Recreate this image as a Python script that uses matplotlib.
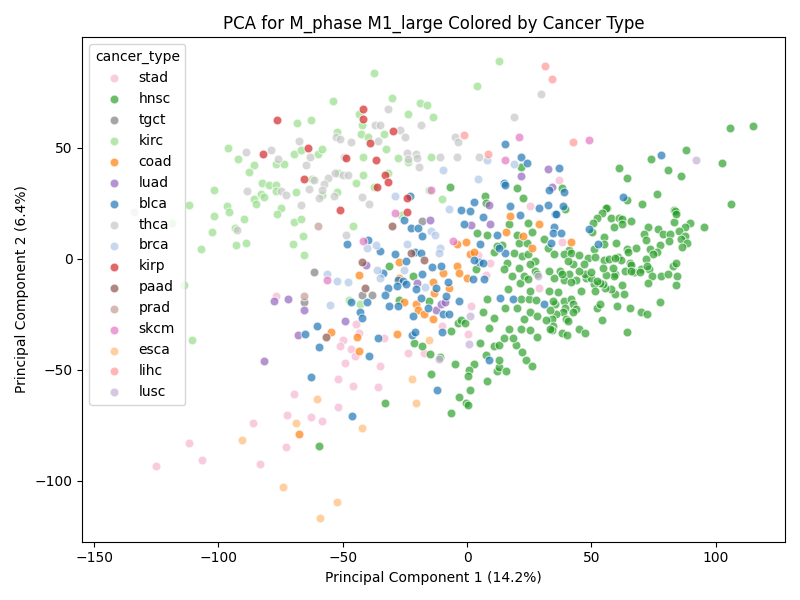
import matplotlib
matplotlib.use("Agg")
import matplotlib.pyplot as plt

categories = ["stad", "hnsc", "tgct", "kirc", "coad", "luad", "blca", "thca",
              "brca", "kirp", "paad", "prad", "skcm", "esca", "lihc", "lusc"]

colors = {
    "stad": "#f7b6d2", "hnsc": "#2ca02c", "tgct": "#7f7f7f", "kirc": "#98df8a",
    "coad": "#ff7f0e", "luad": "#9467bd", "blca": "#1f77b4", "thca": "#c7c7c7",
    "brca": "#aec7e8", "kirp": "#d62728", "paad": "#8c564b", "prad": "#c49c94",
    "skcm": "#e377c2", "esca": "#ffbb78", "lihc": "#ff9896", "lusc": "#c5b0d5",
}

stad = [(-125,-93.4),(-111.7,-83),(-106.5,-90.7),(-86,-74),(-83.2,-92.5),(-72.3,-70.5),
        (-72.7,-84.9),(-69.5,-61),(-62.7,-71.4),(-58.3,-73),(-52,-54),(-46,-57.5),(-36,-58),
        (-49,-47),(-35,-48.5),(-52,-67),(-76.8,-17),(-44.6,-29.6),(-43.4,-33.7),(-49.8,-36.8),
        (-51,-39.5),(-46.6,-40.9),(-45,-44),(-23.7,-42.7),(-17.3,-42.7),(-33.4,-35.9),
        (-10,-30.5),(0.4,-34),(1.6,-21.5),(4.4,1.8),(9.2,-1.8),(7.6,-7.2),(29,-13),
        (25.3,23.8),(37,35.5),(38,7.6)]

hnsc = [(-59.5,-84.4),(-14.5,-52),(-4.8,-47.6),(2.8,-47.6),(0.8,-50),(0.4,-53),(8,-55),
        (12,-50.7),(13,-49),(15.7,-50.7),(23.7,-45.8),(26,-48.5),(13,-45.8),(1.2,-59.3),
        (-3.2,-62.4),(-0.4,-65),(0.4,-66),(-6.4,-69.6),(-33,-65),
        (21.7,41.3),(20,31.9),(22.5,27.4),(-6.8,32.3),(7.2,28.3),(7.6,25),(105.7,58.8),
        (115,59.7),(88,49),(74,45),(102.5,43),(81,40),(86,37.3),(61,40.8),(64.3,36.4),
        (38.2,31.9),(76.4,29),(64.3,26.5),(70.3,24.7),(106,24.7),(39.4,22.5),(56.3,23),
        (83.2,22),(84,21),
        (55.9,23),(54.3,20.6),(52.3,18.4),(57.9,18.4),(61,18.4),(62.3,18),(66,17),(62.3,15.7),
        (59,14.4),(50.6,16.2),(83.6,21.6),(83.2,16.6),(84,20.2),(89.6,16.2),(95.3,14.4),
        (87.6,14.4),(72.7,14.4),(76.8,13.5),(79,11.2),(81.6,11.2),(85.2,12.6),(87.6,10.3),
        (86,9),(88.4,7.2),(81.2,8),(86.4,5.4),(71,11.2),(72,8.5),(77.6,6.3),(73.6,4.5),
        (76.4,3.1),(74.8,2.2),(72,0),(68,5),(64.3,4.5),(64.7,3.1),(59.9,7.2),(55,9.9),
        (50.2,12.1),(55,6.7),(51,4.5),(41,4),(39,2.2),(41.8,2.7),(45,1.8),(48.6,0.4),
        (51.4,0.9),(55,-0.4),(57,0),(60.7,0.9),(61.9,-0.4),(65.5,-1.8),(65.9,-2.7),(70,-4.5),
        (73.2,-4.5),(74.4,-7.6),(72.3,-3.1),(78,-7.6),(80.8,-6.7),(82.8,-3.1),(84,-1.8),
        (84.4,-8),(84,-11.7),(72.7,-10.8),(67,-5.8),(63.5,-5.4),(59.5,-6.7),(59,-8),
        (55.9,-7.2),(54.7,-4),(58.7,-4),(62.3,-11.7),(63,-15.7),(59.5,-15.7),(57.9,-13.5),
        (55.5,-13),(54.7,-11.2),(53.5,-10.8),(51,-11.2),(51.4,-14.4),(47.8,-8.5),(49.8,-8.5),
        (52.3,-9.9),(45.8,-14.4),(47.4,-6.7),(45,-5.4),(43.8,-9.4),(41,-6.7),(39,-9.4),
        (41.8,-10.3),(37.4,-5.4),(35,-8.5),(38.2,-6.7),(42.6,-2.2),(40.6,-0.9),(47,-2.2),
        (49.8,-5.8),(59.5,0.4),(65.9,-5.4),(69.5,-5.8),(77.6,-19.7),(65.5,-22),(70,-24.2),
        (72.3,-25),(60.3,-21.5),(52.3,-22),(53.5,-20.2),(54.3,-27.8),(64.3,-33.2),
        (36.6,-14.8),(35.4,-20.2),(39,-18.9),(41.8,-18),(42.6,-20.2),(39.4,-22),(43.8,-22.5),
        (38.6,-24.2),(42.6,-24.2),(35.8,-25),(39.8,-27.4),(40.6,-28.3),(34.2,-27),
        (34.6,-30.5),(34.2,-32.3),(38.2,-33.7),(40.2,-34.6),(45,-31.9),(47.4,-33.7),
        (-31.4,-3.1),(-21.7,-8),(-27.3,-18.4),(-15.3,-18.9),(-6.4,-32.8),(-3.6,-29.2),
        (-2.4,-27.8),(-0.8,-29.2),(-21.3,-38.2),(-18,-39.5),(-14.9,-43.1),(-10.9,-44.5),
        (5.2,-38.2),(7.6,-43.6),(6.4,-24.2),(8,-18),(10.9,-26.5),(8.8,-31.4),(10.9,-39.5),
        (12.9,-39),(14.9,-35.9),(16.9,-31.9),(19.7,-39),(22.1,-42.2),(18.5,-35.9),
        (21.7,-31.9),(25.3,-32.3),(28.1,-35.5),(33.4,-31.9),(31.7,-27.8),(22.9,-27.4),
        (25.3,-24.2),(28.1,-25.6),(33.4,-23.3),(15.3,-22),(20.1,-22),(21.7,-18),(24.9,-18),
        (16.5,-13.5),(27.7,-18.4),(33,-14.4),(34.6,-18.9),(25.3,-14.4),(21.3,-10.8),
        (18.1,-7.6),(22.9,-7.6),(24.5,-9),(27.3,-5.4),(28.1,-6.7),(33,-5.4),(20.9,-4),
        (16.1,-1.8),(14.9,-4.5),(14.1,6.3),(10.9,3.1),(3.6,-4.5),(4,11.7),(20.1,10.8),
        (20.9,7.2),(8,10.8),(12.1,5.8),(18.9,2.7),(22.1,1.3),(24.5,2.2),(24.1,7.2),
        (27.3,-0.9),(25.3,-2.2),(32.6,5),(35,2.2),(30.9,9),(24.5,16.2),(16.9,15.7),(26.1,12.1)]

tgct = [(-61.5,-5.8),(-65.5,-19.3),(-42.2,-16.2),(-38.2,-16.2),(-18,17)]

kirc = [(-68.3,61),(-62.7,62.4),(-96,50),(-92,45),(-69.5,47),(-67,49),(-60,47),(-76.8,42.7),
        (-73.6,42.7),(-85.6,42),(-87.6,39),(-62.3,36),(-102,31),(-82.4,34),(-79.6,33),
        (-76.8,33),(-76.8,30.5),(-69,30),(-85.6,27),(-82.8,29),(-81.6,28),(-111.7,24),
        (-96.5,23.8),(-85,24.7),(-75,23),(-95.6,21),(-102,19),(-89.6,18),(-76.4,20.2),
        (-118.6,16),(-102.5,12),(-93.2,14),(-69.5,16.6),(-66.7,18),(-66,10.3),(-107,4.5),
        (-92.8,6.3),(-88.8,7.2),(-70,6.7),(-65.5,1.8),(-113.7,-11.7),(-110.5,-36.8),
        (12.9,89),(-37.4,83.5),(4,77.7),(-53.9,71),(-30,72.3),(-19,70),(-16,69),(-23.7,65),
        (-13.7,64),(-43.4,65),(-42.2,60),(-52.2,57),(-42.6,56),(-39.8,55),(-33.4,56),
        (-32.6,49.4),(-58.3,49.4),(-41.8,46),(-23.7,43.6),(-27.7,45.4),(-14.5,45.8),
        (-51.8,38.6),(-41.8,37.7),(-32,38.6),(-44.6,34),(-37.4,32.3),(-15.3,31),(-58.3,28.7),
        (-52.2,30),(-10,27),(-45.8,14.8),(-26.5,19.8),(-47.4,-18.4),(-43,-20.2)]

coad = [(-67.5,-79),(-27.3,-1.3),(-27.3,-8.5),(-43.4,-7.2),(-20.5,-20.2),(-19.7,-22.9),
        (-17.3,-25),(-13.7,-10.3),(-13.3,-15.3),(-13.7,-27),(-9.6,-6.3),(-7.2,-13),(-4,-3.1),
        (-3.2,-6.3),(0,-8.5),(1.2,2.2),(2.8,3.1),(-4,6.7),(-0.4,7.6),(15.7,12.1),(22.5,10.3),
        (26.1,5),(28.9,15.7),(17.3,19.3),(-28.1,-34.1),(-44.2,-35.5),(-43.4,-41.8),
        (-54.7,-33.2),(-25.3,-19.7),(41.8,7.6)]

luad = [(-77.6,-18.9),(-72,-18),(-65.5,-22.9),(-68,-34.6),(-81.6,-46.2),(21.7,37.3),
        (32.6,40.4),(34,32.3),(8.8,24.2),(-14.9,17.5),(-40.6,-2.7),(-20.1,-10.8),
        (-12.5,-23.3),(-10.5,-20.2),(-8.8,-19.3),(-49,-28.3),(9.2,15.7),(1.6,15.3)]

blca = [(-60.3,-30.5),(-65,-34),(-59.5,-40),(-62.7,-53.4),(-12,-59.3),(-46.2,-71),(8.8,-45.8),
        (15.3,51.6),(21.7,45.8),(24,43),(33,31),(14.9,34),(15.3,33),(17.3,23.8),(29,23),
        (32.6,24.2),(-23,28.3),(2.8,25.6),(-2.4,22),(78,46.7),(37,40.8),(39,30),(62.7,27.8),
        (38.6,23.8),(35.4,20.2),(49,13.5),(52.6,6.7),(35,14.4),(34.6,11.7),(37.8,11.7),
        (33.8,7.2),(-48.2,6.7),(-39.8,8.5),(-35,3.6),(-25.3,17.5),(-22.5,13.9),(-19.7,13.9),
        (-18,10.3),(-29,2.2),(-21,3.1),(-18.5,2.7),(-24.5,-0.9),(-33.8,-6.3),(-27.7,-9.4),
        (-25.7,-9.9),(-18,-6.7),(-14,-3.6),(-10.5,-3.1),(-31.8,-13),(-33,-16.2),(-28.1,-12.1),
        (-24.5,-11.2),(-20.5,-13.5),(-12.5,-13),(-7.6,-10.3),(-8.4,-16.6),(-18.5,-17.5),
        (-46.6,-19.7),(-40.2,-19.7),(-43,-23.8),(-31.4,-21.1),(-27.7,-21.1),(-15.7,-22),
        (-9.6,-24.7),(-7.2,-24.7),(-3.2,-18.9),(-21.7,-26),(-42.2,-26.5),(-35.8,-35.9),
        (-22.1,-34.6),(-20.9,-33.2),(-10,-33.2),(-39.4,-44),(13.3,-17.5),(18.5,-18),
        (30.9,-20.2),(15.3,2.7),(12.9,5),(4.8,-1.3),(6.4,-1.8),(2.8,-0.4),(2.4,-9),(6.8,-9),
        (-1.2,15.7),(1.2,21.6),(5.2,6.7),(6.4,18.9),(12.1,10.8),(21.3,19.8),(35.8,20.2)]

thca = [(-67.5,53),(-88.8,48),(-78.8,49),(-76,45),(-63,46),(-64.7,42),(-61.5,35.5),
        (-88.4,30.5),(-74.8,30.5),(-73,28.7),(-63.5,31.4),(-59.5,27.4),(-67,24),(-134,21),
        (-92.4,13),(29.7,74),(-31.8,67.4),(-37,60),(-35,60),(-18.5,60),(19,64),(-27,58),
        (-25,55),(-52.6,55),(-51,54),(-36,53),(-46.6,52.5),(-4.8,55),(-3.6,52.5),(-49.4,46),
        (-24,47.6),(-23.7,45),(-20.5,47),(-20,45.4),(-10.9,45.8),(-4,46),(4.8,46),
        (-19.3,41.3),(-55.9,36.4),(-53,38.6),(-49.8,37.7),(-47.8,37.7),(-57.5,33.7),
        (-58.3,31),(-53.5,28.3),(-42.2,27.8),(-39.4,24.7),(-48.6,10.8)]

brca = [(8,44.4),(18.9,42.7),(-9.6,40),(4.4,36),(-29,28.3),(-7.2,22.5),(-40.2,5),(-36.6,6.3),
        (-14.5,12.6),(-12.9,10.8),(-24.1,6.7),(-10.9,5),(-11.3,2.7),(-36.2,-4.9),(-56.3,-6.7),
        (-52.2,-9.9),(-47.8,-10.3),(-35,-8.5),(-25.3,-4.9),(-16.9,-12.6),(-55,-21)]

kirp = [(-76.4,62.4),(-63.9,49.8),(-82,47),(-65.5,36),(-41.8,67.4),(-41.8,63),(-29.7,57.5),
        (-39,52),(-48.6,45.4),(-36.6,44.4),(-33,37.7),(-31.8,34.6),(-36.2,32.3),(-24.1,27.4),
        (-51,22),(-24,21)]

paad = [(-30,14.8),(-22.5,2.7),(-17.3,-0.4),(-42.2,-1.3),(-41,-13),(-56.7,-35.5)]

prad = [(-60,14.8),(-65.5,-16.6)]

skcm = [(21,55),(15.3,44.4),(-14.5,31),(-29,20.7),(49,53.4),(-41.8,8),(-5.6,8),(-56.3,-9.4)]

esca = [(-60.3,-63.3),(-69,-74),(-90.4,-81.7),(-74,-103),(-59,-117),(-22,-54.3),(-20.5,-65),
        (-42.2,-76.3),(-52.2,-109.6),(-15.3,-36.8)]

lihc = [(31.3,87),(34,81),(-1.2,55.7),(8.4,47),(42.6,52.5)]

lusc = [(92,44.4),(28.5,-7.6),(1.2,-25.6),(0.8,-38.6),(-11.3,-45.4)]

data = {"stad": stad, "hnsc": hnsc, "tgct": tgct, "kirc": kirc, "coad": coad, "luad": luad,
        "blca": blca, "thca": thca, "brca": brca, "kirp": kirp, "paad": paad, "prad": prad,
        "skcm": skcm, "esca": esca, "lihc": lihc, "lusc": lusc}

fig, ax = plt.subplots(figsize=(8, 6), dpi=100)
for cat in categories:
    pts = data[cat]
    xs = [p[0] for p in pts]
    ys = [p[1] for p in pts]
    ax.scatter(xs, ys, s=40, c=colors[cat], alpha=0.7, edgecolors="white",
               linewidths=0.75, label=cat)

ax.set_xlim(-154.8, 127.9)
ax.set_ylim(-127.5, 99.7)
ax.set_xticks([-150, -100, -50, 0, 50, 100])
ax.set_yticks([-100, -50, 0, 50])
ax.set_title("PCA for M_phase M1_large Colored by Cancer Type")
ax.set_xlabel("Principal Component 1 (14.2%)")
ax.set_ylabel("Principal Component 2 (6.4%)")
ax.legend(title="cancer_type", loc="upper left")
fig.tight_layout()
fig.savefig("out.png", dpi=100)
